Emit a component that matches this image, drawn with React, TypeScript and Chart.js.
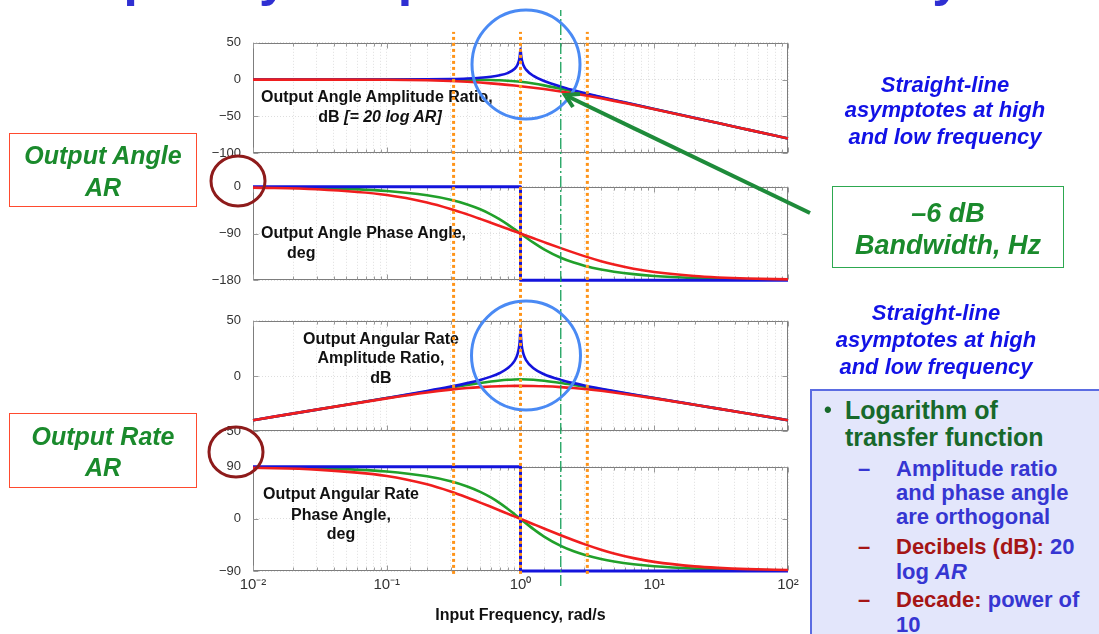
import React, { useEffect, useRef } from 'react';
import { Chart, registerables } from 'chart.js';

Chart.register(...registerables);

const FONT = "'Liberation Sans', Arial, Helvetica, sans-serif";

// ---------- data ----------
const FREQ = [0.01, 0.03, 0.1, 0.2, 0.3, 0.4, 0.5, 0.6, 0.7, 0.8, 0.9, 1, 1.25, 1.5, 2, 2.5, 3, 4, 5, 7, 10, 20, 30, 50, 100];
const BLUE_FREQ = [0.01, 0.03, 0.1, 0.2, 0.3, 0.4, 0.5, 0.6, 0.7, 0.8, 0.9, 0.95, 0.98, 0.99, 1, 1.01, 1.02, 1.05, 1.1, 1.25, 1.5, 2, 2.5, 3, 4, 5, 7, 10, 20, 30, 50, 100];
const STEP_FREQ = [0.01, 1, 1, 100];

// Output angle amplitude ratio, dB
const ANGLE_AR_RED = [0, -0.02, -0.25, -0.92, -1.86, -2.92, -4.02, -5.1, -6.13, -7.12, -8.05, -8.94, -10.99, -12.83, -16.06, -18.84, -21.29, -25.45, -28.88, -34.29, -40.25, -52.1, -59.11, -67.97, -80.0];
const ANGLE_AR_GREEN = [0, 0, 0, -0.01, -0.03, -0.11, -0.26, -0.53, -0.93, -1.49, -2.19, -3.01, -5.37, -7.83, -12.3, -16.03, -19.14, -24.1, -27.97, -33.81, -40.0, -52.04, -59.08, -67.96, -80.0];
const ANGLE_AR_BLUE = [0, 0.01, 0.09, 0.36, 0.82, 1.51, 2.5, 3.88, 5.85, 8.87, 14.42, 20.22, 28.05, 34.02, 42, 33.9, 27.87, 19.79, 13.56, 5.0, -1.94, -9.54, -14.4, -18.06, -23.52, -27.6, -33.62, -39.91, -52.02, -59.08, -67.96, -80.0];

// Output angle phase angle, deg
const ANGLE_PHASE_RED = [-1.6, -4.81, -15.79, -30.26, -42.71, -53.13, -61.82, -69.15, -75.41, -80.87, -85.69, -90, -99.13, -106.57, -118.18, -126.87, -133.6, -143.25, -149.74, -157.79, -164.21, -172.01, -174.66, -176.79, -178.4];
const ANGLE_PHASE_GREEN = [-0.81, -2.43, -8.13, -16.41, -25.0, -33.96, -43.31, -52.97, -62.74, -72.35, -81.51, -90, -107.65, -120.51, -136.69, -146.04, -152.06, -159.34, -163.59, -168.35, -171.87, -175.95, -177.3, -178.38, -179.19];
const ANGLE_PHASE_BLUE = [0, 0, -180, -180];

// Output angular rate amplitude ratio, dB
const RATE_AR_RED = [-40.0, -30.48, -20.25, -14.9, -12.32, -10.88, -10.04, -9.53, -9.23, -9.05, -8.97, -8.94, -9.05, -9.31, -10.04, -10.88, -11.75, -13.41, -14.9, -17.39, -20.25, -26.08, -29.57, -33.99, -40.0];
const RATE_AR_GREEN = [-40.0, -30.46, -20.0, -13.99, -10.5, -8.07, -6.28, -4.97, -4.03, -3.43, -3.11, -3.01, -3.43, -4.31, -6.28, -8.07, -9.6, -12.06, -13.99, -16.91, -20.0, -26.02, -29.54, -33.98, -40.0];
const RATE_AR_BLUE = [-40.0, -30.45, -19.91, -13.62, -9.64, -6.44, -3.52, -0.56, 2.75, 6.94, 13.5, 19.77, 27.87, 33.93, 42, 33.99, 28.04, 20.21, 14.39, 6.94, 1.58, -3.52, -6.44, -8.52, -11.48, -13.62, -16.72, -19.91, -26.0, -29.54, -33.98, -40.0];

// Output angular rate phase angle, deg
const RATE_PHASE_RED = [88.4, 85.19, 74.21, 59.74, 47.29, 36.87, 28.18, 20.85, 14.59, 9.13, 4.31, 0, -9.13, -16.57, -28.18, -36.87, -43.6, -53.25, -59.74, -67.79, -74.21, -82.01, -84.66, -86.79, -88.4];
const RATE_PHASE_GREEN = [89.19, 87.57, 81.87, 73.59, 65.0, 56.04, 46.69, 37.03, 27.26, 17.65, 8.49, 0, -17.65, -30.51, -46.69, -56.04, -62.06, -69.34, -73.59, -78.35, -81.87, -85.95, -87.3, -88.38, -89.19];
const RATE_PHASE_BLUE = [90, 90, -90, -90];

// reference frequencies (vertical markers)
const ORANGE_FREQ = [0.316, 1, 3.16];
const BANDWIDTH_FREQ = 2;

const X_TICK_LABELS: Record<string, string> = { '-2': '10⁻²', '-1': '10⁻¹', '0': '10⁰', '1': '10¹', '2': '10²' };

const RED = '#F01E1E';
const GREEN = '#21A02A';
const BLUE = '#1414DC';
const ORANGE = '#FF9419';
const DASH_GREEN = '#17A05A';

// ---------- helpers ----------
const pts = (xs: number[], ys: number[]) => xs.map((x, i) => ({ x, y: ys[i] }));

const curve = (xs: number[], ys: number[], color: string, smooth = true) => ({
  data: pts(xs, ys),
  borderColor: color,
  backgroundColor: color,
  borderWidth: smooth ? 2.6 : 3,
  pointRadius: 0,
  fill: false,
  clip: 4,
  tension: smooth ? 0.4 : 0,
  cubicInterpolationMode: smooth ? 'monotone' : 'default',
  borderJoinStyle: 'round',
});

const fmtY = (v: number) => (v < 0 ? '\u2212' + Math.abs(v) : String(v));

const framePlugin = {
  id: 'frame',
  beforeDatasetsDraw(chart: any) {
    const { ctx, chartArea: a, scales } = chart;
    const L = Math.round(a.left) + 0.5;
    const R = Math.round(a.right) - 0.5;
    const T = Math.round(a.top) + 0.5;
    const B = Math.round(a.bottom) - 0.5;
    ctx.save();
    ctx.strokeStyle = '#7d7d7d';
    ctx.lineWidth = 1;
    ctx.strokeRect(L, T, R - L, B - T);
    ctx.beginPath();
    for (const t of scales.y.ticks) {
      const py = Math.round(scales.y.getPixelForValue(t.value)) + 0.5;
      ctx.moveTo(L, py); ctx.lineTo(L + 5, py);
      ctx.moveTo(R, py); ctx.lineTo(R - 5, py);
    }
    for (const t of scales.x.ticks) {
      const e = Math.log10(t.value);
      const major = Math.abs(e - Math.round(e)) < 1e-6;
      const len = major ? 5 : 3;
      const px = Math.round(scales.x.getPixelForValue(t.value)) + 0.5;
      ctx.moveTo(px, B); ctx.lineTo(px, B - len);
      ctx.moveTo(px, T); ctx.lineTo(px, T + len);
    }
    ctx.strokeStyle = '#999';
    ctx.stroke();
    ctx.restore();
  },
};

function panelConfig(datasets: any[], yMin: number, yMax: number, yStep: number, withX: boolean): any {
  return {
    type: 'line',
    data: { datasets },
    plugins: [framePlugin],
    options: {
      animation: false,
      responsive: false,
      events: [],
      layout: { padding: { left: 0, right: 12, top: 10, bottom: withX ? 0 : 10 } },
      plugins: { legend: { display: false }, tooltip: { enabled: false }, title: { display: false } },
      elements: { point: { radius: 0 } },
      scales: {
        x: {
          type: 'logarithmic',
          min: 0.01,
          max: 100,
          border: { display: false, dash: [1, 2] },
          grid: { color: 'rgba(0,0,0,0.13)', drawTicks: false, lineWidth: 1 },
          ticks: {
            display: withX,
            autoSkip: false,
            maxRotation: 0,
            padding: 5,
            color: '#333',
            font: { size: 15, family: FONT },
            callback: (v: number) => {
              const e = Math.log10(v);
              const r = Math.round(e);
              return Math.abs(e - r) < 1e-6 ? X_TICK_LABELS[String(r)] : '';
            },
          },
          title: withX
            ? { display: true, text: 'Input Frequency, rad/s', color: '#111', font: { size: 16, weight: 'bold', family: FONT }, padding: { top: 0, bottom: 4 } }
            : { display: false },
          afterFit: (s: any) => {
            s.height = withX ? 58 : 0;
            s.paddingLeft = 0;
            s.paddingRight = 0;
          },
        },
        y: {
          min: yMin,
          max: yMax,
          border: { display: false, dash: [1, 2] },
          grid: { color: 'rgba(0,0,0,0.13)', drawTicks: false },
          ticks: { stepSize: yStep, padding: 12, color: '#333', font: { size: 13, family: FONT }, callback: (v: number) => fmtY(v) },
          afterFit: (s: any) => { s.width = 63; },
        },
      },
    },
  };
}

function overlayConfig(): any {
  const vline = (f: number, y0: number, y1: number, color: string, width: number, dash: number[]) => ({
    data: [{ x: f, y: y0 }, { x: f, y: y1 }],
    borderColor: color,
    borderWidth: width,
    borderDash: dash,
    borderCapStyle: 'butt',
    pointRadius: 0,
    fill: false,
    clip: false,
  });
  return {
    type: 'line',
    data: {
      datasets: [
        ...ORANGE_FREQ.map((f) => vline(f, 0.021, 0.962, ORANGE, 3, [3, 3])),
        vline(BANDWIDTH_FREQ, 0, 1, DASH_GREEN, 1.3, [11, 3, 2, 3]),
      ],
    },
    options: {
      animation: false,
      responsive: false,
      events: [],
      layout: { padding: { left: 63, right: 12, top: 10, bottom: 48 } },
      plugins: { legend: { display: false }, tooltip: { enabled: false } },
      scales: {
        x: { type: 'logarithmic', min: 0.01, max: 100, display: false },
        y: { type: 'linear', min: 0, max: 1, display: false },
      },
    },
  };
}

// ---------- text helper ----------
type TProps = {
  x: number; y: number; size: number; children: React.ReactNode;
  align?: 'left' | 'center'; color?: string; italic?: boolean; bold?: boolean; z?: number;
};
function T({ x, y, size, children, align = 'left', color = '#111', italic = false, bold = true, z = 3 }: TProps) {
  const lh = size * 1.2;
  const style: React.CSSProperties = {
    position: 'absolute',
    top: y - lh / 2,
    fontSize: size,
    lineHeight: lh + 'px',
    fontFamily: FONT,
    fontWeight: bold ? 700 : 400,
    fontStyle: italic ? 'italic' : 'normal',
    color,
    whiteSpace: 'nowrap',
    zIndex: z,
  };
  if (align === 'center') { style.left = x - 300; style.width = 600; style.textAlign = 'center'; }
  else style.left = x;
  return <div style={style}>{children}</div>;
}

const cv = (top: number, height: number, width = 610, left = 190, z = 1): React.CSSProperties => ({
  position: 'absolute', left, top, width, height, zIndex: z,
});

export default function App() {
  const c1 = useRef<HTMLCanvasElement>(null);
  const c2 = useRef<HTMLCanvasElement>(null);
  const c3 = useRef<HTMLCanvasElement>(null);
  const c4 = useRef<HTMLCanvasElement>(null);
  const c5 = useRef<HTMLCanvasElement>(null);

  useEffect(() => {
    const charts = [
      new Chart(c1.current!, panelConfig([
        curve(FREQ, ANGLE_AR_RED, RED),
        curve(BLUE_FREQ, ANGLE_AR_BLUE, BLUE),
        curve(FREQ, ANGLE_AR_GREEN, GREEN),
      ], -100, 50, 50, false)),
      new Chart(c2.current!, panelConfig([
        curve(FREQ, ANGLE_PHASE_RED, RED),
        curve(STEP_FREQ, ANGLE_PHASE_BLUE, BLUE, false),
        curve(FREQ, ANGLE_PHASE_GREEN, GREEN),
      ], -180, 0, 90, false)),
      new Chart(c3.current!, panelConfig([
        curve(FREQ, RATE_AR_RED, RED),
        curve(BLUE_FREQ, RATE_AR_BLUE, BLUE),
        curve(FREQ, RATE_AR_GREEN, GREEN),
      ], -50, 50, 50, false)),
      new Chart(c4.current!, panelConfig([
        curve(FREQ, RATE_PHASE_RED, RED),
        curve(STEP_FREQ, RATE_PHASE_BLUE, BLUE, false),
        curve(FREQ, RATE_PHASE_GREEN, GREEN),
      ], -90, 90, 90, true)),
      new Chart(c5.current!, overlayConfig()),
    ];
    return () => charts.forEach((c) => c.destroy());
  }, []);

  const sideBlue = '#1212E6';
  const boxGreen = '#1A8A2C';
  const darkGreen = '#17692B';
  const listBlue = '#3636D2';
  const darkRed = '#A51515';

  return (
    <div style={{ position: 'fixed', left: 0, top: 0, width: 1099, height: 634, overflow: 'hidden', background: '#fff', fontFamily: FONT }}>
      {/* clipped slide title */}
      <div style={{ position: 'absolute', left: 25, top: -49, fontSize: 52, lineHeight: '52px', fontWeight: 700, color: '#2F2FD2', whiteSpace: 'nowrap', fontFamily: FONT }}>
        Frequency Response of 2nd-Order Dynamics
      </div>

      <canvas ref={c1} width={610} height={150} style={cv(23, 150)} />
      <canvas ref={c2} width={610} height={133} style={cv(167, 133)} />
      <canvas ref={c3} width={610} height={150} style={cv(301, 150)} />
      <canvas ref={c4} width={610} height={182} style={cv(447, 182)} />

      {/* panel annotations */}
      <T x={261} y={97} size={16}>Output Angle Amplitude Ratio,</T>
      <T x={380} y={117} size={16} align="center">dB <i>[= 20 log AR]</i></T>
      <T x={261} y={233} size={16}>Output Angle Phase Angle,</T>
      <T x={287} y={253} size={16}>deg</T>
      <T x={381} y={339} size={16} align="center">Output Angular Rate</T>
      <T x={381} y={358} size={16} align="center">Amplitude Ratio,</T>
      <T x={381} y={378} size={16} align="center">dB</T>
      <T x={341} y={494} size={16} align="center">Output Angular Rate</T>
      <T x={341} y={515} size={16} align="center">Phase Angle,</T>
      <T x={341} y={534} size={16} align="center">deg</T>

      <canvas ref={c5} width={610} height={634} style={cv(0, 634, 610, 190, 4)} />

      {/* left boxes */}
      <div style={{ position: 'absolute', left: 9, top: 133, width: 186, height: 72, border: '1.5px solid #FF4A2E', zIndex: 2 }} />
      <T x={103} y={155} size={25} align="center" italic color={boxGreen}>Output Angle</T>
      <T x={103} y={187} size={25} align="center" italic color={boxGreen}>AR</T>
      <div style={{ position: 'absolute', left: 9, top: 413, width: 186, height: 73, border: '1.5px solid #FF4A2E', zIndex: 2 }} />
      <T x={103} y={436} size={25} align="center" italic color={boxGreen}>Output Rate</T>
      <T x={103} y={467} size={25} align="center" italic color={boxGreen}>AR</T>

      {/* right texts */}
      <T x={945} y={85} size={22} align="center" italic color={sideBlue}>Straight-line</T>
      <T x={945} y={110} size={22} align="center" italic color={sideBlue}>asymptotes at high</T>
      <T x={945} y={137} size={22} align="center" italic color={sideBlue}>and low frequency</T>

      <div style={{ position: 'absolute', left: 832, top: 186, width: 230, height: 80, border: '1.5px solid #2DA850', zIndex: 2 }} />
      <T x={948} y={213} size={27} align="center" italic color={boxGreen}>–6 dB</T>
      <T x={948} y={245} size={27} align="center" italic color={boxGreen}>Bandwidth, Hz</T>

      <T x={936} y={313} size={22} align="center" italic color={sideBlue}>Straight-line</T>
      <T x={936} y={340} size={22} align="center" italic color={sideBlue}>asymptotes at high</T>
      <T x={936} y={367} size={22} align="center" italic color={sideBlue}>and low frequency</T>

      {/* bottom-right bullet box */}
      <div style={{ position: 'absolute', left: 810, top: 389, width: 320, height: 280, background: '#E3E6FB', border: '2px solid #5B6CE2', zIndex: 2 }} />
      <T x={824} y={410} size={22} color={darkGreen}>•</T>
      <T x={845} y={410} size={25} color={darkGreen}>Logarithm of</T>
      <T x={845} y={437} size={25} color={darkGreen}>transfer function</T>
      <T x={858} y={469} size={22} color={listBlue}>–</T>
      <T x={896} y={469} size={22} color={listBlue}>Amplitude ratio</T>
      <T x={896} y={493} size={22} color={listBlue}>and phase angle</T>
      <T x={896} y={517} size={22} color={listBlue}>are orthogonal</T>
      <T x={858} y={547} size={22} color={darkRed}>–</T>
      <T x={896} y={547} size={22} color={listBlue}><span style={{ color: darkRed }}>Decibels (dB):</span> 20</T>
      <T x={896} y={572} size={22} color={listBlue}>log <i>AR</i></T>
      <T x={858} y={600} size={22} color={darkRed}>–</T>
      <T x={896} y={600} size={22} color={listBlue}><span style={{ color: darkRed }}>Decade:</span> power of</T>
      <T x={896} y={625} size={22} color={listBlue}>10</T>

      {/* circles and arrow */}
      <svg width={1099} height={634} style={{ position: 'absolute', left: 0, top: 0, zIndex: 6, pointerEvents: 'none' }}>
        <ellipse cx={526} cy={64.5} rx={54} ry={54.5} fill="none" stroke="#4A8AF4" strokeWidth={3} />
        <ellipse cx={526} cy={355.5} rx={54.5} ry={54.5} fill="none" stroke="#4A8AF4" strokeWidth={3} />
        <ellipse cx={238} cy={181} rx={27} ry={25} fill="none" stroke="#8E1B1B" strokeWidth={3} />
        <ellipse cx={236} cy={452} rx={27} ry={25} fill="none" stroke="#8E1B1B" strokeWidth={3} />
        <line x1={810} y1={213} x2={567} y2={96} stroke="#1E8B3A" strokeWidth={4} />
        <polyline points="573,107 565,95 580,94" fill="none" stroke="#1E8B3A" strokeWidth={4} strokeLinejoin="miter" />
      </svg>
    </div>
  );
}
